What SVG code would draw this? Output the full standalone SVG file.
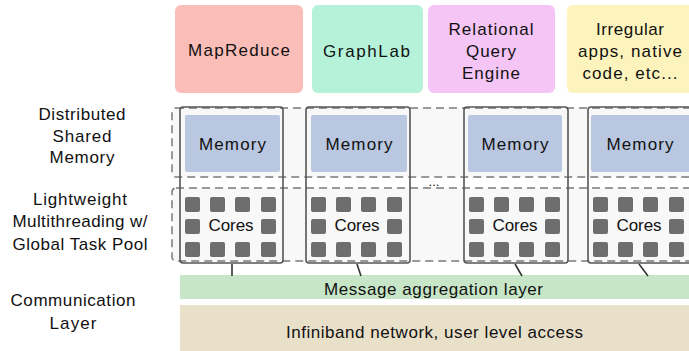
<svg xmlns="http://www.w3.org/2000/svg" width="689" height="351" viewBox="0 0 689 351">
<style>
text{font-family:"Liberation Sans",Arial,sans-serif;font-size:17px;fill:#111;text-anchor:middle}
.row{fill:#f8f8f8;stroke:#7a7a7a;stroke-width:1.5;stroke-dasharray:8 5}
.node{fill:none;stroke:#555;stroke-width:1.6}
.mem{fill:#b9c8e0}
.core{fill:#6e6e6e}
.conn{stroke:#333;stroke-width:1.6}
</style>
<defs>
<g id="cores">
<rect class="core" x="5" y="89" width="15" height="15" rx="2"/>
<rect class="core" x="30" y="89" width="15" height="15" rx="2"/>
<rect class="core" x="55" y="89" width="15" height="15" rx="2"/>
<rect class="core" x="81" y="89" width="15" height="15" rx="2"/>
<rect class="core" x="5" y="111" width="15" height="15" rx="2"/>
<rect class="core" x="81" y="111" width="15" height="15" rx="2"/>
<rect class="core" x="5" y="134" width="15" height="15" rx="2"/>
<rect class="core" x="30" y="134" width="15" height="15" rx="2"/>
<rect class="core" x="55" y="134" width="15" height="15" rx="2"/>
<rect class="core" x="81" y="134" width="15" height="15" rx="2"/>
</g>
</defs>

<g id="labels">
<text x="82" y="120" textLength="87" lengthAdjust="spacing">Distributed</text>
<text x="82" y="142" textLength="59" lengthAdjust="spacing">Shared</text>
<text x="82" y="163" textLength="65" lengthAdjust="spacing">Memory</text>
<text x="80" y="205" textLength="94" lengthAdjust="spacing">Lightweight</text>
<text x="80" y="227" textLength="135" lengthAdjust="spacing">Multithreading w/</text>
<text x="80" y="250" textLength="135" lengthAdjust="spacing">Global Task Pool</text>
<text x="73" y="306" textLength="125" lengthAdjust="spacing">Communication</text>
<text x="73" y="329" textLength="47" lengthAdjust="spacing">Layer</text>
</g>

<g id="app-mapreduce">
<rect x="175" y="5" width="128" height="88" rx="6" fill="#fabdb8"/>
<text x="239" y="56" textLength="102" lengthAdjust="spacing">MapReduce</text>
</g>
<g id="app-graphlab">
<rect x="312" y="5" width="111" height="88" rx="6" fill="#b6f2da"/>
<text x="366.5" y="57" textLength="87" lengthAdjust="spacing">GraphLab</text>
</g>
<g id="app-relational">
<rect x="428" y="5" width="127" height="88" rx="6" fill="#f4c5f5"/>
<text x="491" y="35" textLength="85" lengthAdjust="spacing">Relational</text>
<text x="491" y="57" textLength="50" lengthAdjust="spacing">Query</text>
<text x="491" y="79" textLength="58" lengthAdjust="spacing">Engine</text>
</g>
<g id="app-irregular">
<rect x="567" y="5" width="130" height="88" rx="6" fill="#fdf4bd"/>
<text x="630" y="35" textLength="68" lengthAdjust="spacing">Irregular</text>
<text x="630" y="57" textLength="104" lengthAdjust="spacing">apps, native</text>
<text x="630" y="79" textLength="95" lengthAdjust="spacing">code, etc...</text>
</g>

<g id="dsm-row">
<rect class="row" x="172" y="108" width="540" height="69" rx="4"/>
</g>
<g id="cores-row">
<rect class="row" x="172" y="188" width="540" height="73" rx="4"/>
</g>
<text x="434" y="186" style="font-size:13px">...</text>

<g id="node1" transform="translate(180,0)">
<rect class="node" x="0" y="107" width="103" height="156" rx="3"/>
<rect class="mem" x="5" y="115" width="95" height="57" rx="2"/>
<text x="52.5" y="150" textLength="67" lengthAdjust="spacing">Memory</text>
<use href="#cores" y="108"/>
<text x="51" y="231" textLength="45" lengthAdjust="spacing">Cores</text>
</g>
<g id="node2" transform="translate(306,0)">
<rect class="node" x="0" y="107" width="104" height="156" rx="3"/>
<rect class="mem" x="5" y="115" width="96" height="57" rx="2"/>
<text x="53" y="150" textLength="67" lengthAdjust="spacing">Memory</text>
<use href="#cores" y="108"/>
<text x="51" y="231" textLength="45" lengthAdjust="spacing">Cores</text>
</g>
<g id="node3" transform="translate(464,0)">
<rect class="node" x="0" y="107" width="104" height="156" rx="3"/>
<rect class="mem" x="4" y="115" width="94" height="57" rx="2"/>
<text x="51" y="150" textLength="67" lengthAdjust="spacing">Memory</text>
<use href="#cores" y="108"/>
<text x="51" y="231" textLength="45" lengthAdjust="spacing">Cores</text>
</g>
<g id="node4" transform="translate(588,0)">
<rect class="node" x="0" y="107" width="104" height="156" rx="3"/>
<rect class="mem" x="3" y="115" width="100" height="57" rx="2"/>
<text x="52" y="150" textLength="67" lengthAdjust="spacing">Memory</text>
<use href="#cores" y="108"/>
<text x="51" y="231" textLength="45" lengthAdjust="spacing">Cores</text>
</g>

<g id="message-layer">
<rect x="180" y="275" width="509" height="24" fill="#c7e6c7"/>
<text x="433.5" y="295" textLength="219" lengthAdjust="spacing">Message aggregation layer</text>
</g>
<g id="infiniband">
<rect x="180" y="305" width="509" height="46" fill="#e9e0ca"/>
<text x="434.5" y="338" textLength="297" lengthAdjust="spacing">Infiniband network, user level access</text>
</g>

<g id="connectors">
<line class="conn" x1="232" y1="264" x2="232" y2="276"/>
<line class="conn" x1="357" y1="264" x2="361" y2="276"/>
<line class="conn" x1="515" y1="264" x2="522" y2="276"/>
<line class="conn" x1="639" y1="264" x2="648" y2="276"/>
</g>
</svg>
